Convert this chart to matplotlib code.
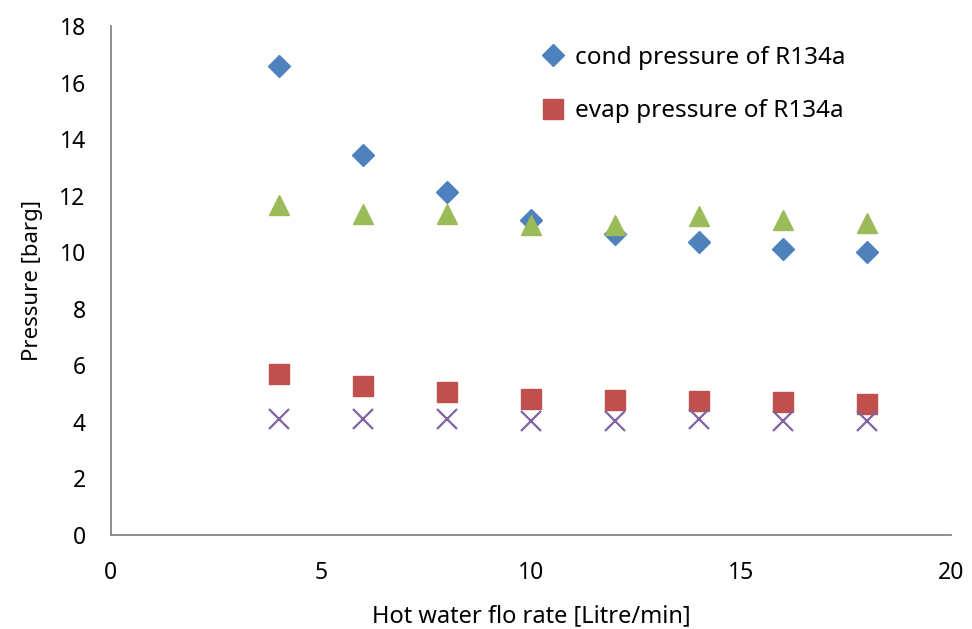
import matplotlib as mpl
mpl.use('Agg')
import matplotlib.pyplot as plt

plt.rcParams['font.family'] = ['Noto Sans', 'DejaVu Sans']

# hot water flow rate [Litre/min]
flow = [4, 6, 8, 10, 12, 14, 16, 18]

# pressures [barg]
cond_r134a = [16.58, 13.44, 12.14, 11.12, 10.64, 10.37, 10.12, 10.02]
evap_r134a = [5.68, 5.25, 5.05, 4.79, 4.76, 4.74, 4.69, 4.64]
cond_other = [11.67, 11.33, 11.33, 10.96, 10.96, 11.27, 11.15, 11.02]
evap_other = [4.10, 4.10, 4.10, 4.01, 4.04, 4.08, 4.04, 4.01]

fig = plt.figure(figsize=(9.72, 6.29), dpi=100)
ax = fig.add_axes([0.1139, 0.1499, 0.8645, 0.8088])

# markers in office colours
ax.plot(flow, cond_r134a, linestyle='none', marker='D', ms=11,
        color='#4F81BD', mec='#4F81BD', label='cond pressure of R134a')
ax.plot(flow, evap_r134a, linestyle='none', marker='s', ms=14,
        color='#C0504D', mec='#C0504D', label='evap pressure of R134a')
ax.plot(flow, cond_other, linestyle='none', marker='^', ms=14.4,
        color='#9BBB59', mec='#9BBB59')
ax.plot(flow, evap_other, linestyle='none', marker='x', ms=14,
        mew=1.6, color='#8064A2')

# axes
ax.set_xlim(0, 20)
ax.set_ylim(0, 18)
ax.set_xticks([0, 5, 10, 15, 20])
ax.set_yticks(range(0, 19, 2))
ax.tick_params(length=0, labelsize=16.5)
ax.tick_params(axis='x', pad=19)
ax.tick_params(axis='y', pad=18)

for side in ['top', 'right']:
    ax.spines[side].set_visible(False)
for side in ['left', 'bottom']:
    ax.spines[side].set_color('#868686')
    ax.spines[side].set_linewidth(1.3)

ax.set_xlabel('Hot water flo rate [Litre/min]', fontsize=17, labelpad=14)
ax.set_ylabel('Pressure [barg]', fontsize=16, labelpad=12)

ax.legend(loc='upper left', bbox_to_anchor=(541 / 972, 1 - 46 / 629),
          bbox_transform=fig.transFigure, frameon=False, fontsize=17.5,
          handlelength=1.0, handletextpad=0.4, labelspacing=1.2,
          borderpad=0, borderaxespad=0)

fig.savefig('out.png', dpi=100)
